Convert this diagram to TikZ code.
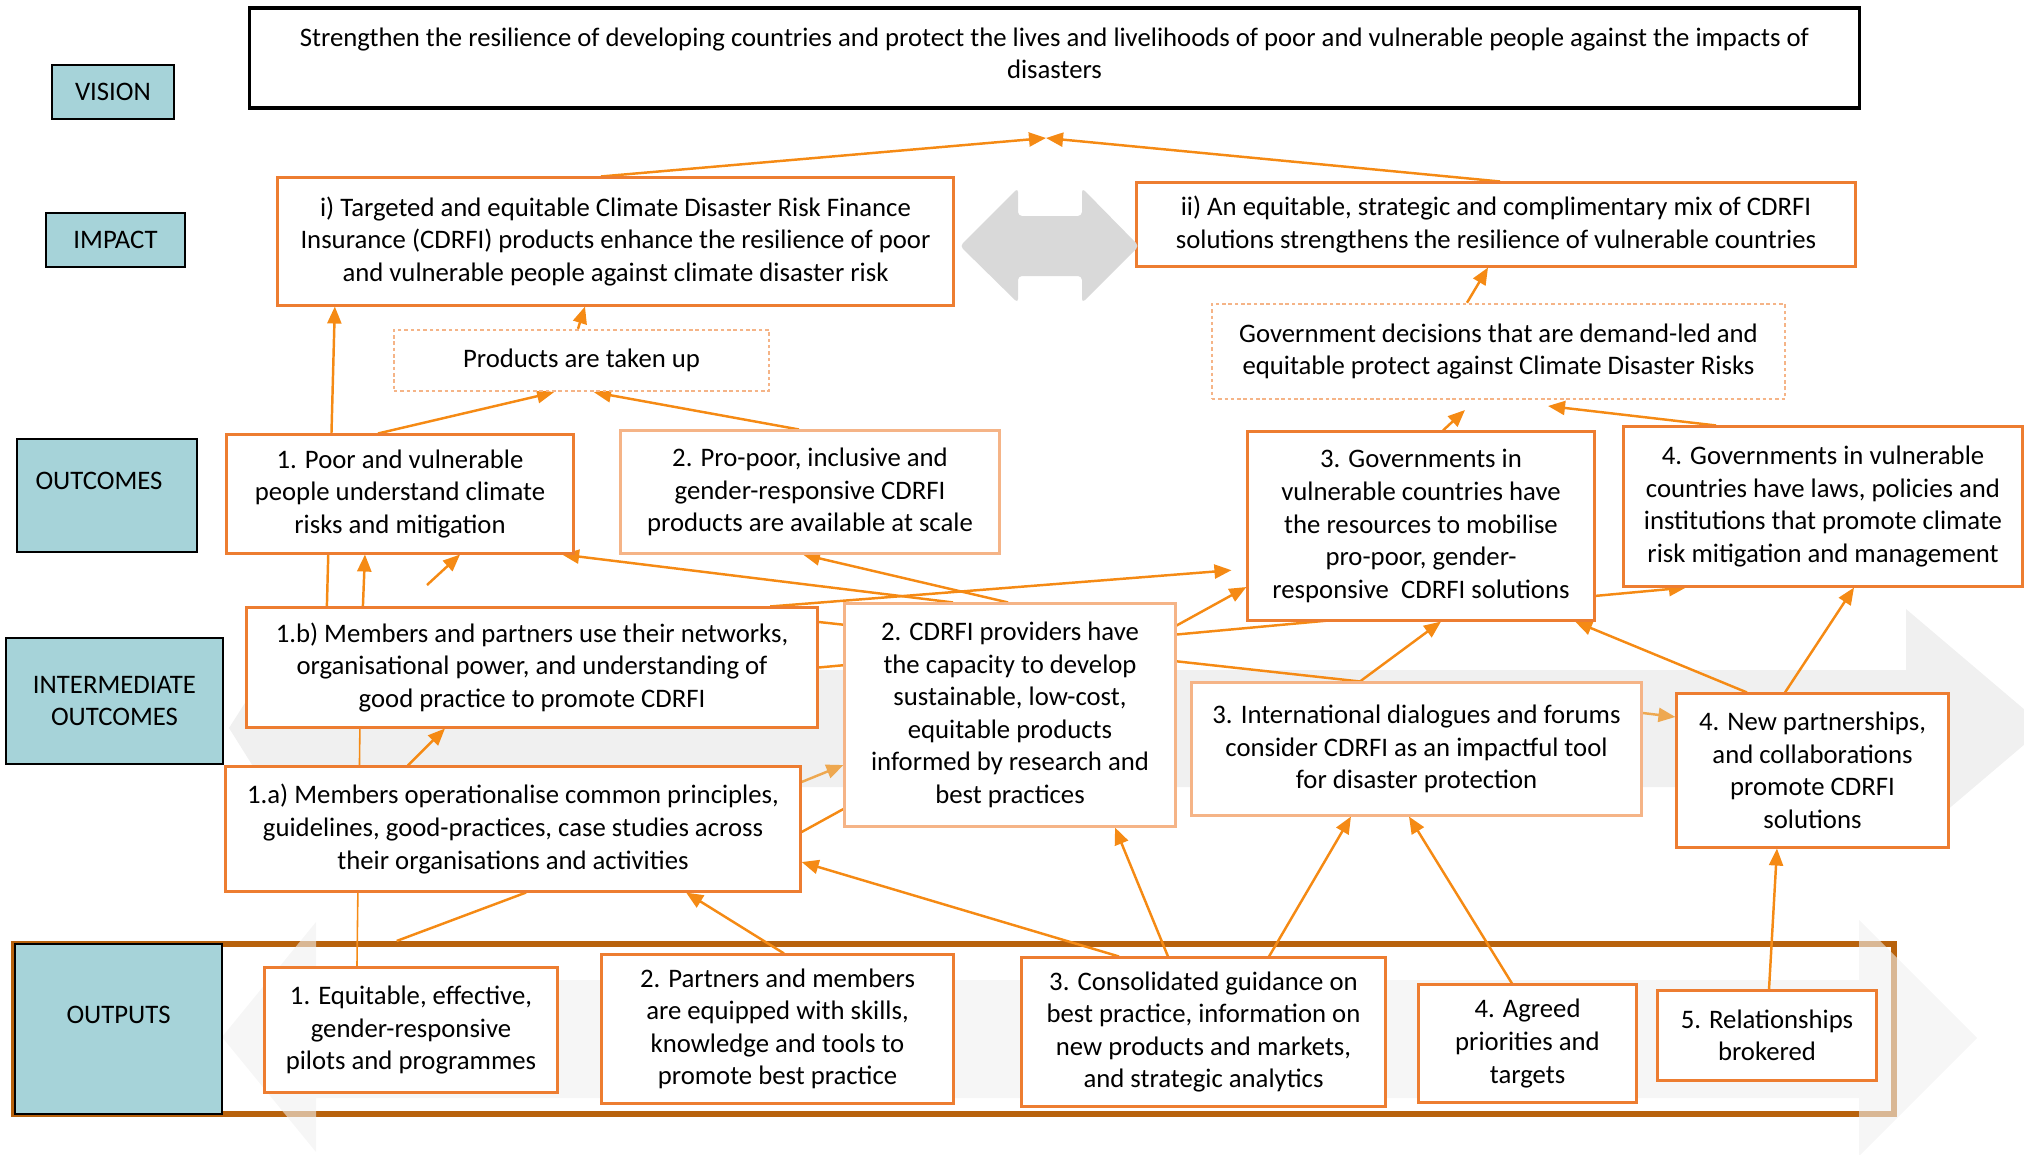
\documentclass[tikz,border=0pt]{standalone}
\usepackage{fontspec}
\setmainfont{Carlito}
\usetikzlibrary{arrows.meta}
\definecolor{tealfill}{RGB}{166,211,217}
\definecolor{boxorange}{RGB}{237,125,49}
\definecolor{paleorange}{RGB}{245,180,135}
\definecolor{linkorange}{RGB}{245,138,20}
\definecolor{softorange}{RGB}{238,168,80}
\definecolor{bandbrown}{RGB}{184,98,12}
\definecolor{bigarrow}{RGB}{217,217,217}
\definecolor{flowgrey}{RGB}{240,240,240}
\pgfdeclarelayer{back}
\pgfdeclarelayer{links}
\pgfsetlayers{back,links,main}
\begin{document}
\begin{tikzpicture}[x=0.01cm, y=-0.01cm, >={Triangle[length=0.17cm,width=0.14cm]},
  font=\fontsize{7.6}{9.25}\selectfont,
  level/.style={draw=black, line width=0.8pt, fill=tealfill, align=center, inner sep=0pt},
  result/.style={draw=boxorange, line width=0.85pt, fill=white, align=center, inner sep=0pt},
  softresult/.style={result, draw=paleorange},
  assumption/.style={draw=paleorange, line width=0.7pt, dash pattern=on 1pt off 0.8pt, fill=white, align=center, inner sep=0pt},
  link/.style={->, draw=linkorange, line width=0.7pt},
  softlink/.style={link, draw=softorange},
  tie/.style={draw=linkorange, line width=0.7pt}]
\useasboundingbox (0,0) rectangle (2024,1154);
\node[level, minimum width=1.22cm, minimum height=0.54cm] (vislbl) at (113,92) {VISION};
\node[level, minimum width=1.39cm, minimum height=0.54cm] (implbl) at (115.5,240) {IMPACT};
\node[level, minimum width=1.80cm, minimum height=1.13cm] (outlbl) at (107,495.5) {\raisebox{0.29cm}{OUTCOMES\hspace{0.16cm}}};
\node[level, minimum width=2.17cm, minimum height=1.26cm] (intlbl) at (114.5,701) {INTERMEDIATE\\OUTCOMES};
\node[level, minimum width=2.07cm, minimum height=1.70cm] (optlbl) at (118.5,1029) {\raisebox{0.28cm}{OUTPUTS}};

\node[draw=black, line width=1.1pt, fill=white, align=center, inner sep=0pt, minimum width=16.09cm, minimum height=1.0cm] (vision) at (1054.5,58) {Strengthen the resilience of developing countries and protect the lives and livelihoods of poor and vulnerable people against the impacts of\\disasters\rule[-0.1cm]{0pt}{0.1cm}};
\node[result, minimum width=6.75cm, minimum height=1.27cm] (impi) at (615.5,241.5) {i) Targeted and equitable Climate Disaster Risk Finance\\Insurance (CDRFI) products enhance the resilience of poor\\and vulnerable people against climate disaster risk};
\node[result, minimum width=7.18cm, minimum height=0.83cm] (impii) at (1496,224.5) {ii) An equitable, strategic and complimentary mix of CDRFI\\solutions strengthens the resilience of vulnerable countries};
\fill[bigarrow, rounded corners=0.04cm] (960,246) -- (1018,188) -- (1018,216) -- (1082,216) -- (1082,188) -- (1139,246) -- (1082,303) -- (1082,276) -- (1018,276) -- (1018,303) -- cycle;
\node[assumption, minimum width=3.75cm, minimum height=0.61cm] (taken) at (581.5,360.5) {Products are taken up};
\node[assumption, minimum width=5.73cm, minimum height=0.95cm] (govdec) at (1498.5,351.5) {Government decisions that are demand-led and\\equitable protect against Climate Disaster Risks};

\node[result, minimum width=3.46cm, minimum height=1.18cm] (pv) at (400,494) {1. Poor and vulnerable\\people understand climate\\risks and mitigation};
\node[softresult, minimum width=3.78cm, minimum height=1.22cm] (propoor) at (810,492) {2. Pro-poor, inclusive and\\gender-responsive CDRFI\\products are available at scale};
\node[result, minimum width=3.46cm, minimum height=1.88cm] (govres) at (1421,526) {3. Governments in\\vulnerable countries have\\the resources to mobilise\\pro-poor, gender-\\responsive\ \ CDRFI solutions};
\node[result, minimum width=3.98cm, minimum height=1.59cm] (govlaw) at (1823,506.5) {4. Governments in vulnerable\\countries have laws, policies and\\institutions that promote climate\\risk mitigation and management};

\node[result, minimum width=5.70cm, minimum height=1.19cm] (networks) at (532,667.5) {1.b) Members and partners use their networks,\\organisational power, and understanding of\\good practice to promote CDRFI};
\node[result, minimum width=5.74cm, minimum height=1.24cm] (principles) at (513,829) {1.a) Members operationalise common principles,\\guidelines, good-practices, case studies across\\their organisations and activities};
\node[softresult, minimum width=3.30cm, minimum height=2.22cm] (providers) at (1010,715) {2. CDRFI providers have\\the capacity to develop\\sustainable, low-cost,\\equitable products\\informed by research and\\best practices};
\node[softresult, minimum width=4.49cm, minimum height=1.32cm] (dialogue) at (1416.5,749) {3. International dialogues and forums\\consider CDRFI as an impactful tool\\for disaster protection};
\node[result, minimum width=2.71cm, minimum height=1.53cm] (partnerships) at (1812.5,770.5) {4. New partnerships,\\and collaborations\\promote CDRFI\\solutions};

\node[result, minimum width=2.92cm, minimum height=1.24cm] (pilots) at (411,1030) {1. Equitable, effective,\\gender-responsive\\pilots and programmes};
\node[result, minimum width=3.51cm, minimum height=1.48cm] (equipped) at (777.5,1029) {2. Partners and members\\are equipped with skills,\\knowledge and tools to\\promote best practice};
\node[result, minimum width=3.63cm, minimum height=1.48cm] (guidance) at (1203.5,1032) {3. Consolidated guidance on\\best practice, information on\\new products and markets,\\and strategic analytics};
\node[result, minimum width=2.17cm, minimum height=1.17cm] (priorities) at (1527.5,1043.5) {4. Agreed\\priorities and\\targets};
\node[result, minimum width=2.18cm, minimum height=0.89cm] (brokered) at (1767,1035.5) {5. Relationships\\brokered};

\coordinate (vmeet) at (1046,138);
\coordinate (gtipa) at (1465,410);
\coordinate (gtipb) at (1548,406);
\coordinate (pvtail) at (427,585);

\begin{pgfonlayer}{back}
\fill[flowgrey] (229,728) -- (266,670) -- (1906,670) -- (1906,609) -- (2045,727) -- (1906,845) -- (1906,787) -- (266,787) -- cycle;
\node[draw=bandbrown, line width=1.7pt, minimum width=18.78cm, minimum height=1.70cm, inner sep=0pt] (band) at (954,1029) {};
\fill[flowgrey, opacity=0.6] (222,1037) -- (316,922) -- (316,980) -- (1859,980) -- (1859,920) -- (1977,1038) -- (1859,1156) -- (1859,1098) -- (316,1098) -- (316,1152) -- cycle;
\end{pgfonlayer}

\begin{pgfonlayer}{links}
\draw[link] ([xshift=-0.145cm]impi.north) -- (vmeet);
\draw[link] ([xshift=0.04cm]impii.north) -- (vmeet);
\draw[link] ([xshift=-0.035cm]taken.north) -- ([xshift=-0.305cm]impi.south);
\draw[link] ([xshift=-0.22cm]pv.north) -- ([xshift=-0.275cm]taken.south);
\draw[link] ([xshift=-0.11cm]propoor.north) -- ([xshift=0.125cm]taken.south);
\draw[link] ([xshift=-0.315cm]govdec.north) -- ([xshift=-0.08cm]impii.south);
\draw[link] ([xshift=0.22cm]govres.north) -- (gtipa);
\draw[link] ([xshift=-1.07cm]govlaw.north) -- (gtipb);
\draw[link] ([xshift=-2.05cm]networks.north) -- ([xshift=-2.805cm]impi.south);
\draw[link] ([xshift=-1.69cm]networks.north) -- ([xshift=-0.35cm]pv.south);
\draw[link] (pvtail) -- ([xshift=0.6cm]pv.south);
\draw[link] ([xshift=-0.57cm]providers.north) -- ([xshift=1.62cm]pv.south);
\draw[link] ([xshift=-0.02cm]providers.north) -- ([xshift=-0.07cm]propoor.south);
\draw[link, shorten >=0.15cm] ([xshift=2.38cm]networks.north) -- ([yshift=-0.43cm]govres.west);
\draw[link] ([yshift=-0.03cm]principles.east) -- ([yshift=-0.61cm]govres.west);
\draw[link] (networks.east) -- ([xshift=-1.37cm]govlaw.south);
\draw[tie] ([yshift=0.455cm]networks.east) -- ([xshift=-0.565cm]dialogue.north);
\draw[link] ([xshift=-0.565cm]dialogue.north) -- ([xshift=0.2cm]govres.south);
\draw[softlink] ([yshift=0.47cm]principles.east) -- ([yshift=-0.5cm]providers.west);
\draw[link] ([xshift=-1.05cm]principles.north) -- ([xshift=-0.87cm]networks.south);
\draw[tie] ([xshift=-5.57cm]band.north) -- ([xshift=0.13cm]principles.south);
\draw[tie, line width=0.45pt] ([xshift=-0.54cm]pilots.north) -- ([xshift=-1.72cm]networks.south);
\draw[link] ([xshift=0.065cm]equipped.north) -- ([xshift=1.73cm]principles.south);
\draw[link] ([xshift=-0.845cm]guidance.north) -- ([yshift=-0.33cm]principles.east);
\draw[link] ([xshift=-0.355cm]guidance.north) -- ([xshift=1.05cm]providers.south);
\draw[link] ([xshift=0.655cm]guidance.north) -- ([xshift=-0.655cm]dialogue.south);
\draw[link] ([xshift=-0.155cm]priorities.north) -- ([xshift=-0.075cm]dialogue.south);
\draw[link] ([xshift=0.02cm]brokered.north) -- ([xshift=-0.355cm]partnerships.south);
\draw[softlink] ([yshift=0.36cm]dialogue.east) -- ([yshift=0.535cm]partnerships.west);
\draw[link] ([xshift=-0.655cm]partnerships.north) -- ([xshift=1.54cm]govres.south);
\draw[link] ([xshift=-0.275cm]partnerships.north) -- ([xshift=0.31cm]govlaw.south);
\end{pgfonlayer}
\end{tikzpicture}
\end{document}
